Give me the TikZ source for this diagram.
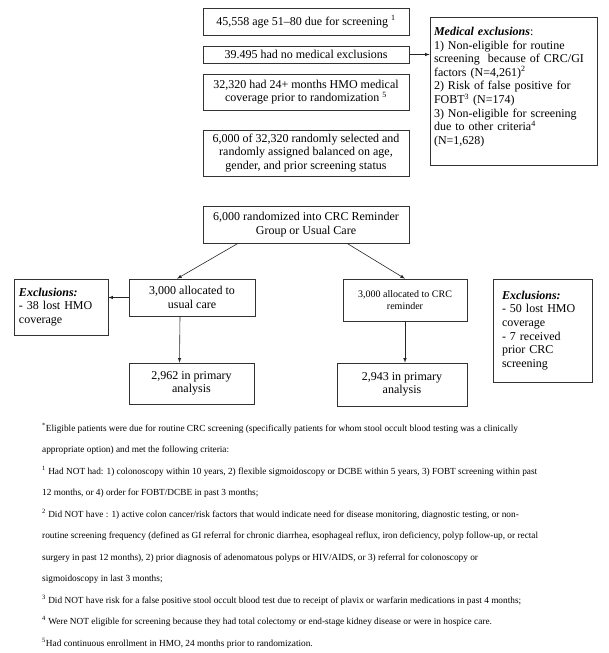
\documentclass[tikz,border=0pt]{standalone}
\usepackage{fontspec}
\setmainfont{Liberation Serif}
\usetikzlibrary{arrows,positioning,calc}

\begin{document}
\begin{tikzpicture}[>=latex, x=1pt, y=-1pt,
	box/.style={draw=black!80, line width=0.7pt, inner sep=2pt, align=center, font=\fontsize{12}{13.6}\selectfont},
	exbox/.style={box, align=left},
	link/.style={->, draw=black!85, line width=0.6pt},
	note/.style={align=left, anchor=north west, inner sep=0pt, font=\fontsize{9.3}{21.5}\selectfont}]
	\useasboundingbox (0,0) rectangle (609,653);
	\node[box, minimum width=206pt, minimum height=27pt] (due) at (306,21.5) {45,558 age 51--80 due for screening \textsuperscript{1}};
	\node[box, minimum width=206pt, minimum height=17pt, inner ysep=0pt] (nomed) at (306,54.5) {39.495 had no medical exclusions};
	\node[box, minimum width=206pt, minimum height=36pt, inner ysep=0pt] (hmo) at (306,92) {32,320 had 24+ months HMO medical\\coverage prior to randomization \textsuperscript{5}};
	\node[box, minimum width=206pt, minimum height=46pt, inner ysep=0pt] (sel) at (306,153) {6,000 of 32,320 randomly selected and\\randomly assigned balanced on age,\\gender, and prior screening status};
	\node[exbox, minimum width=167pt, minimum height=148pt, text width=159pt, inner xsep=4pt] (medex) at (513.5,91) {\textbf{\textit{Medical exclusions}}:\\1) Non-eligible for routine\\screening~ because of CRC/GI\\factors (N=4,261)\textsuperscript{2}\\2) Risk of false positive for\\FOBT\textsuperscript{3} (N=174)\\3) Non-eligible for screening\\due to other criteria\textsuperscript{4}\\(N=1,628)\\[-3pt]~};
	\node[box, minimum width=206pt, minimum height=37pt] (rand) at (306,224.5) {6,000 randomized into CRC Reminder\\Group or Usual Care};
	\node[box, minimum width=126pt, minimum height=37pt, inner ysep=0pt] (usual) at (192,297.5) {3,000 allocated to\\usual care};
	\node[box, minimum width=124pt, minimum height=42pt, font=\fontsize{10}{12}\selectfont] (remind) at (405,300) {3,000 allocated to CRC\\reminder};
	\node[exbox, minimum width=94pt, minimum height=56pt, text width=84pt, inner xsep=5pt] (exleft) at (61,307) {\textbf{\textit{Exclusions:}}\\- 38 lost HMO\\coverage};
	\node[exbox, minimum width=99pt, minimum height=103pt, text width=81pt, inner xsep=9pt] (exright) at (542.5,330.5) {\textbf{\textit{Exclusions:}}\\- 50 lost HMO\\coverage\\- 7 received\\prior CRC\\screening};
	\node[box, minimum width=125pt, minimum height=41pt] (usualan) at (191.5,383.5) {2,962 in primary\\analysis};
	\node[box, minimum width=130pt, minimum height=43pt] (remindan) at (402,384.5) {2,943 in primary\\analysis};
	\draw[link] (nomed.east) -- (nomed.east -| medex.west);
	\draw[link] ([xshift=-68pt]rand.south) -- ([xshift=-15pt]usual.north);
	\draw[link] ([xshift=41pt]rand.south) -- (remind.north);
	\draw[link] (usual.west) -- (usual.west -| exleft.east);
	\draw[link] ([xshift=-12pt]usual.south) -- ([xshift=-12pt]usualan.north);
	\draw[link] (remind.south) -- (remind.south |- remindan.north);
	\node[note] (notes) at (42,423) {\textsuperscript{*}Eligible patients were due for routine CRC screening (specifically patients for whom stool occult blood testing was a clinically\\
		appropriate option) and met the following criteria:\\
		\textsuperscript{1} Had NOT had: 1) colonoscopy within 10 years, 2) flexible sigmoidoscopy or DCBE within 5 years, 3) FOBT screening within past\\
		12 months, or 4) order for FOBT/DCBE in past 3 months;\\
		\textsuperscript{2} Did NOT have : 1) active colon cancer/risk factors that would indicate need for disease monitoring, diagnostic testing, or non-\\
		routine screening frequency (defined as GI referral for chronic diarrhea, esophageal reflux, iron deficiency, polyp follow-up, or rectal\\
		surgery in past 12 months), 2) prior diagnosis of adenomatous polyps or HIV/AIDS, or 3) referral for colonoscopy or\\
		sigmoidoscopy in last 3 months;\\
		\textsuperscript{3} Did NOT have risk for a false positive stool occult blood test due to receipt of plavix or warfarin medications in past 4 months;\\
		\textsuperscript{4} Were NOT eligible for screening because they had total colectomy or end-stage kidney disease or were in hospice care.\\
		\textsuperscript{5}Had continuous enrollment in HMO, 24 months prior to randomization.};
\end{tikzpicture}
\end{document}
